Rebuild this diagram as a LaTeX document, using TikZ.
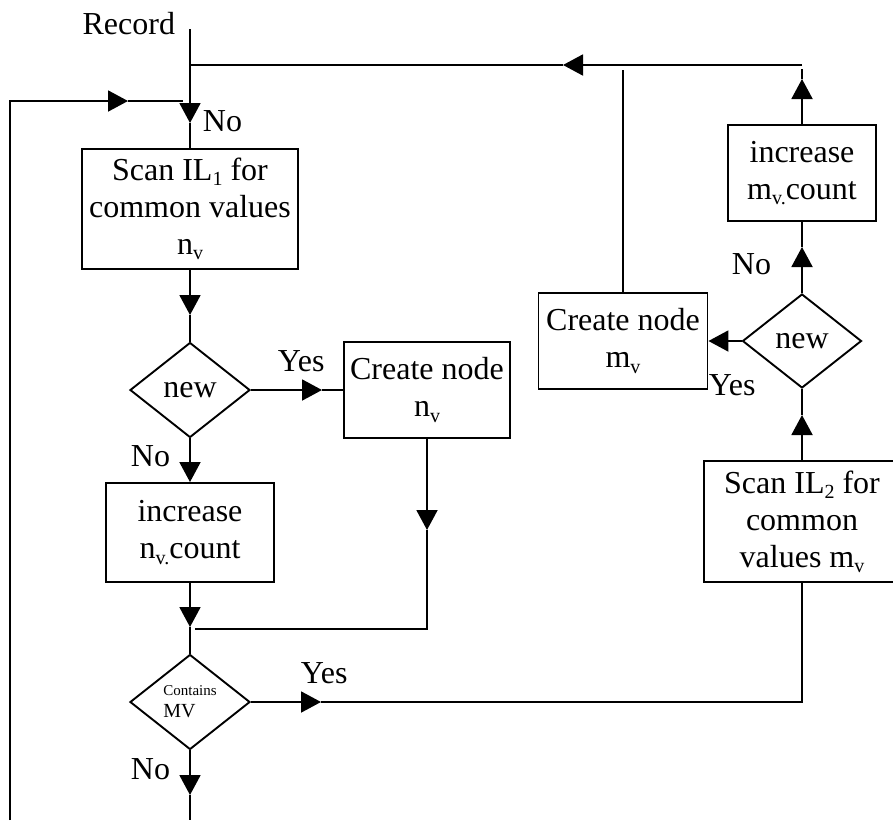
\documentclass[tikz,border=0pt]{standalone}
\usepackage{fontspec}
\setmainfont{Liberation Serif}
\usetikzlibrary{arrows.meta,shapes.geometric}
% small lowered index used in the node texts
\newcommand\lowsub[1]{\raisebox{-0.35ex}{\fontsize{20}{20}\selectfont #1}}
\begin{document}
\begin{tikzpicture}[x=1pt,y=-1pt,line width=1.9pt,
  every node/.style={font=\fontsize{32}{37}\selectfont},
  box/.style={draw,rectangle,align=center,inner sep=0pt},
  decision/.style={draw,diamond,inner sep=0pt,minimum width=120pt,minimum height=95pt},
  tip/.style={-{Triangle[length=20pt,width=21pt]}},
  lbl/.style={anchor=base west,inner sep=0pt}]
\useasboundingbox (0,0) rectangle (893,820);

% process boxes and decisions
\node[box,minimum width=216pt,minimum height=120pt] (scanA) at (190,209) {Scan IL\lowsub{1} for\\common values\\n\lowsub{v}};
\node[decision] (newA) at (190,390) {new};
\node[box,minimum width=166pt,minimum height=96pt] (createA) at (427,390) {Create node\\n\lowsub{v}};
\node[box,minimum width=168pt,minimum height=99pt] (incA) at (190,532.5) {increase\\n\lowsub{v.}count};
\node[decision,align=left,font=\fontsize{20}{22}\selectfont] (mv) at (190,702) {{\fontsize{15}{17}\selectfont Contains}\\MV};
\node[box,minimum width=196pt,minimum height=121pt] (scanB) at (802,521.5) {Scan IL\lowsub{2} for\\common\\values m\lowsub{v}};
\node[decision,minimum width=119pt,minimum height=94pt] (newB) at (802,341) {new};
\node[box,minimum width=169pt,minimum height=96pt] (createB) at (623,341) {Create node\\m\lowsub{v}};
\node[box,minimum width=148pt,minimum height=96pt] (incB) at (802,173) {increase\\m\lowsub{v.}count};

% labels
\node[anchor=base east,inner sep=0pt] (record) at (176,34) {Record};
\node[lbl] (noTop) at (202,131) {No};
\node[lbl] (yesA) at (277,371) {Yes};
\node[lbl] (noA) at (130,466) {No};
\node[lbl] (yesMV) at (300,683) {Yes};
\node[lbl] (noMV) at (130,779) {No};
\node[lbl] (noB) at (731,274) {No};
\node[lbl] (yesB) at (708,395) {Yes};

% free ends and arrow positions
\coordinate (rec) at (190,29);
\coordinate (t1) at (190,123);
\coordinate (topR) at (802,65);
\coordinate (tTop) at (563,65);
\coordinate (topL) at (190,65);
\coordinate (loopB) at (10,820);
\coordinate (loopT) at (10,101);
\coordinate (tLoop) at (128,101);
\coordinate (loopE) at (183,101);
\coordinate (t2) at (190,315);
\coordinate (t3) at (322,390);
\coordinate (t4) at (427,530);
\coordinate (joinR) at (427,629);
\coordinate (joinL) at (195,629);
\coordinate (t5) at (190,627);
\coordinate (t6) at (321,702);
\coordinate (cornerMV) at (802,702);
\coordinate (t7) at (802,415);
\coordinate (t8) at (802,247);
\coordinate (t9) at (802,79);
\coordinate (endB) at (802,69);
\coordinate (endC) at (623,70);
\coordinate (t10) at (190,795);
\coordinate (bot) at (190,820);

% connectors
\draw[tip] (rec) -- (t1);
\draw (t1) -- (scanA.north);
\draw[tip] (topR) -- (tTop);
\draw (tTop) -- (topL);
\draw[tip] (loopB) -- (loopT) -- (tLoop);
\draw (tLoop) -- (loopE);
\draw[tip] (scanA.south) -- (t2);
\draw (t2) -- (newA.north);
\draw[tip] (newA.east) -- (t3);
\draw (t3) -- (createA.west);
\draw[tip] (newA.south) -- (incA.north);
\draw[tip] (createA.south) -- (t4);
\draw (t4) -- (joinR) -- (joinL);
\draw[tip] (incA.south) -- (t5);
\draw (t5) -- (mv.north);
\draw[tip] (mv.east) -- (t6);
\draw (t6) -- (cornerMV) -- (scanB.south);
\draw[tip] (scanB.north) -- (t7);
\draw (t7) -- (newB.south);
\draw[tip] (newB.north) -- (t8);
\draw (t8) -- (incB.south);
\draw[tip] (incB.north) -- (t9);
\draw (t9) -- (endB);
\draw[tip] (newB.west) -- (createB.east);
\draw (createB.north) -- (endC);
\draw[tip] (mv.south) -- (t10);
\draw (t10) -- (bot);
\end{tikzpicture}
\end{document}
